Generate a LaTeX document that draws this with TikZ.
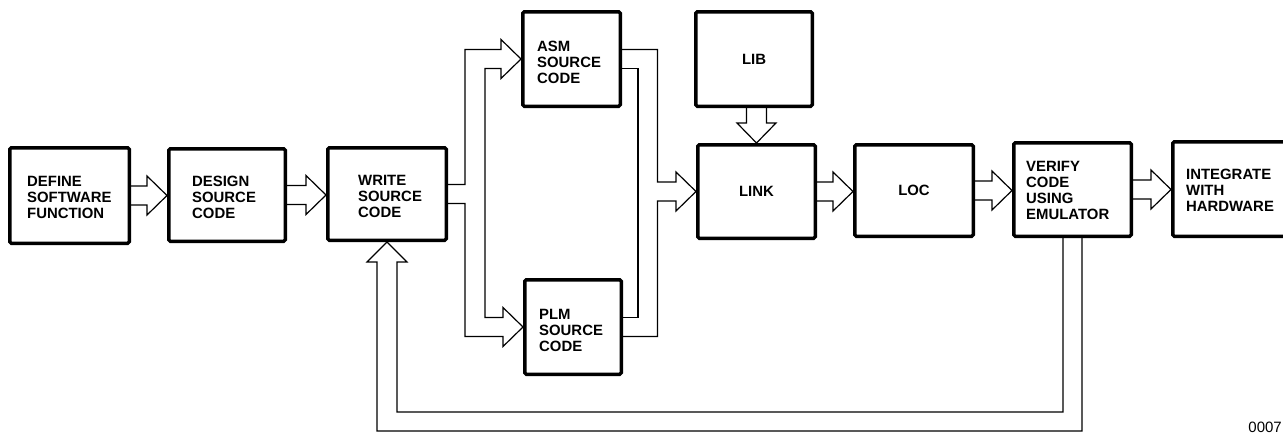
\documentclass[tikz,border=0pt]{standalone}
\usepackage{fontspec}
\setmainfont{Liberation Sans}
\usetikzlibrary{calc}
\tikzset{
  box/.style={draw, line width=3.5pt, rounded corners=1.5pt, inner sep=0pt},
  conn/.style={line width=1.2pt, line join=miter},
  lbl/.style={font=\bfseries\fontsize{14.9}{16}\selectfont, align=left, inner sep=0pt, anchor=west},
  clbl/.style={font=\bfseries\fontsize{14.9}{16}\selectfont, inner sep=0pt},
}
\newcommand\mybox[5]{\node[box, minimum width=#4pt, minimum height=#5pt] (#1) at (#2,#3) {};}
\newcommand\hfat[2]{\draw[conn] ($(#1.east)+(0,-9.5)$) -- ($(#2.west |- #1.east)+(-20,-9.5)$) -- ($(#2.west |- #1.east)+(-20,-19.5)$) -- (#2.west |- #1.east) -- ($(#2.west |- #1.east)+(-20,19.5)$) -- ($(#2.west |- #1.east)+(-20,9.5)$) -- ($(#1.east)+(0,9.5)$);}
\begin{document}
\begin{tikzpicture}[x=1pt,y=-1pt]
\useasboundingbox (0,0) rectangle (1283,434);
\clip (0,0) rectangle (1283,434);
% boxes
\mybox{define}{69.5}{195.5}{119.5}{95.5}
\mybox{design}{227}{195}{116.5}{92.5}
\mybox{write}{387}{194}{118.5}{92.5}
\mybox{asm}{571.5}{59}{97.5}{94.5}
\mybox{plm}{573}{327}{96.5}{94.5}
\mybox{lib}{754}{59}{116.5}{94.5}
\mybox{link}{756.5}{191.5}{117.5}{93.5}
\mybox{loc}{914}{190.5}{118.5}{91.5}
\mybox{verify}{1072.5}{189.5}{117.5}{93.5}
\mybox{integrate}{1232}{189}{118.5}{94.5}
% labels
\node[lbl] (tdefine) at (27,197.5) {DEFINE\\SOFTWARE\\FUNCTION};
\node[lbl] (tdesign) at (192,197) {DESIGN\\SOURCE\\CODE};
\node[lbl] (twrite) at (358,196.5) {WRITE\\SOURCE\\CODE};
\node[lbl] (tasm) at (537,62) {ASM\\SOURCE\\CODE};
\node[lbl] (tplm) at (539,330) {PLM\\SOURCE\\CODE};
\node[clbl] (tlib) at (lib) {LIB};
\node[clbl] (tlink) at (link) {LINK};
\node[clbl] (tloc) at (loc) {LOC};
\node[lbl] (tverify) at (1026,190.5) {VERIFY\\CODE\\USING\\EMULATOR};
\node[lbl] (tintegrate) at (1186,190.5) {INTEGRATE\\WITH\\HARDWARE};
% bend coordinates
\coordinate (lo) at (465,0);
\coordinate (li) at (485,0);
\coordinate (ri) at (638,0);
\coordinate (ro) at (657.5,0);
\coordinate (fb1) at (0,412);
\coordinate (fb2) at (0,431);
% straight fat arrows
\hfat{define}{design}
\hfat{design}{write}
\hfat{link}{loc}
\hfat{loc}{verify}
\hfat{verify}{integrate}
% split from WRITE to ASM and PLM
\draw[conn] ($(write.east)+(0,-9.5)$) -- ($(lo |- write.east)+(0,-9.5)$) -- ($(lo |- asm.west)+(0,-9.5)$)
  -- ($(asm.west)+(-20,-9.5)$) -- ($(asm.west)+(-20,-19.5)$) -- (asm.west) -- ($(asm.west)+(-20,19.5)$) -- ($(asm.west)+(-20,9.5)$)
  -- ($(li |- asm.west)+(0,9.5)$) -- ($(li |- plm.west)+(0,-9.5)$)
  -- ($(plm.west)+(-20,-9.5)$) -- ($(plm.west)+(-20,-19.5)$) -- (plm.west) -- ($(plm.west)+(-20,19.5)$) -- ($(plm.west)+(-20,9.5)$)
  -- ($(lo |- plm.west)+(0,9.5)$) -- ($(lo |- write.east)+(0,9.5)$) -- ($(write.east)+(0,9.5)$);
% merge from ASM and PLM into LINK
\draw[conn] ($(asm.east)+(0,-9.5)$) -- ($(ro |- asm.east)+(0,-9.5)$) -- ($(ro |- link.west)+(0,-9.5)$)
  -- ($(link.west)+(-20,-9.5)$) -- ($(link.west)+(-20,-19.5)$) -- (link.west) -- ($(link.west)+(-20,19.5)$) -- ($(link.west)+(-20,9.5)$)
  -- ($(ro |- link.west)+(0,9.5)$) -- ($(ro |- plm.east)+(0,9.5)$) -- ($(plm.east)+(0,9.5)$);
\draw[conn] ($(asm.east)+(0,9.5)$) -- ($(ri |- asm.east)+(0,9.5)$) -- ($(ri |- plm.east)+(0,-9.5)$) -- ($(plm.east)+(0,-9.5)$);
% LIB to LINK
\draw[conn] ($(link.north |- lib.south)+(-10,0)$) -- ($(link.north)+(-10,-20)$) -- ($(link.north)+(-19.5,-20)$) -- (link.north)
  -- ($(link.north)+(19.5,-20)$) -- ($(link.north)+(10,-20)$) -- ($(link.north |- lib.south)+(10,0)$);
% feedback VERIFY to WRITE
\draw[conn] ($(verify.south)+(-9.5,0)$) -- ($(verify.south |- fb1)+(-9.5,0)$) -- ($(write.south |- fb1)+(10,0)$)
  -- ($(write.south)+(10,20)$) -- ($(write.south)+(20,20)$) -- (write.south) -- ($(write.south)+(-20,20)$) -- ($(write.south)+(-10,20)$)
  -- ($(write.south |- fb2)+(-10,0)$) -- ($(verify.south |- fb2)+(9.5,0)$) -- ($(verify.south)+(9.5,0)$);
% figure number
\node[font=\fontsize{15}{15}\selectfont, anchor=base east, inner sep=0pt] (fignum) at (1282,432) {0007};
\end{tikzpicture}
\end{document}
